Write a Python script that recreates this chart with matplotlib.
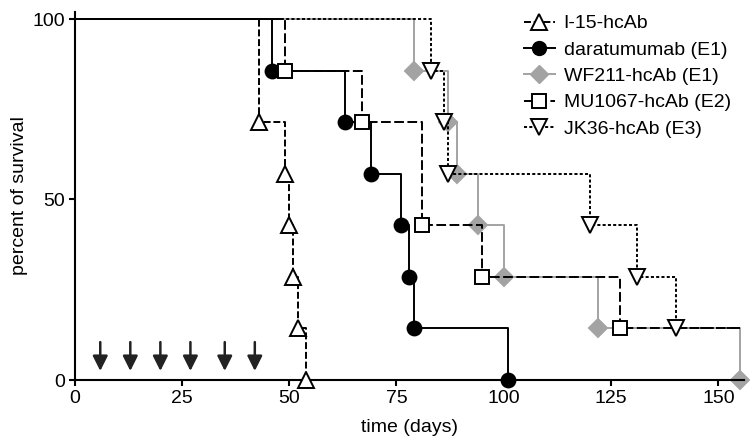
import matplotlib
matplotlib.use("Agg")
import matplotlib.pyplot as plt
from matplotlib.lines import Line2D

plt.rcParams['font.family'] = ['Liberation Sans', 'DejaVu Sans']
plt.rcParams['lines.scale_dashes'] = False

# Kaplan-Meier data (days, percent survival after each event)
i15_days = [43, 49, 50, 51, 52, 54]
i15_surv = [71.4, 57.1, 42.9, 28.6, 14.3, 0]
dara_days = [46, 63, 69, 76, 78, 79, 101]
dara_surv = [85.7, 71.4, 57.1, 42.9, 28.6, 14.3, 0]
wf_days = [79, 87, 89, 94, 100, 122, 155]
wf_surv = [85.7, 71.4, 57.1, 42.9, 28.6, 14.3, 0]
mu_days = [49, 67, 81, 95, 127]
mu_surv = [85.7, 71.4, 42.9, 28.6, 14.3]
mu_end = 155
jk_days = [83, 86, 87, 120, 131, 140]
jk_surv = [85.7, 71.4, 57.1, 42.9, 28.6, 14.3]
jk_end = 155
arrow_days = [6, 13, 20, 27, 35, 42]

labels = ['I-15-hcAb', 'daratumumab (E1)', 'WF211-hcAb (E1)',
          'MU1067-hcAb (E2)', 'JK36-hcAb (E3)']

fig = plt.figure(figsize=(7.5, 4.48), dpi=100)
ax = fig.add_axes([74.5/750, 1-380/448, (156*4.293)/750, 102*3.61/448])

gray = '#a3a3a3'
lw = 1.4
fs = 14

def km(ax, days, surv, end=None, color='k', dashes=None, marker='o',
       mfc='k', mec='k', ms=10, z=2):
    xs = [0] + list(days)
    ys = [100] + list(surv)
    if end is not None:
        xs.append(end)
        ys.append(ys[-1])
    ln, = ax.step(xs, ys, where='post', color=color, lw=lw, zorder=z,
                  clip_on=False)
    if dashes is not None:
        ln.set_dashes(dashes)
    ax.plot(days, surv, linestyle='none', marker=marker, ms=ms, mfc=mfc,
            mec=mec, mew=1.4, zorder=z+0.5, clip_on=False)

km(ax, wf_days, wf_surv, color=gray, marker='D', mfc=gray, mec=gray, ms=9, z=2)
km(ax, dara_days, dara_surv, color='k', marker='o', mfc='k', mec='k', ms=10, z=3)
km(ax, i15_days, i15_surv, color='k', dashes=(5, 2), marker='^', mfc='white', ms=11, z=4)
km(ax, mu_days, mu_surv, end=mu_end, color='k', dashes=(7, 2.5), marker='s', mfc='white', ms=10, z=4)
km(ax, jk_days, jk_surv, end=jk_end, color='k', dashes=(2.2, 1.6), marker='v', mfc='white', ms=11, z=5)

for d in arrow_days:
    ax.annotate('', xy=(d, 2.5), xytext=(d, 10.5),
                arrowprops=dict(arrowstyle='-|>,head_width=0.45,head_length=0.9',
                                color='#222222', lw=1.8, shrinkA=0, shrinkB=0))

ax.set_xlim(0, 156)
ax.set_ylim(0, 102)
ax.set_xticks([0, 25, 50, 75, 100, 125, 150])
ax.set_yticks([0, 50, 100])
for s in ['top', 'right']:
    ax.spines[s].set_visible(False)
for s in ['left', 'bottom']:
    ax.spines[s].set_linewidth(1.5)
ax.tick_params(direction='out', length=4, width=1.5, labelsize=fs, pad=3)
ax.set_xlabel('time (days)', fontsize=fs, labelpad=9)
ax.set_ylabel('percent of survival', fontsize=fs, labelpad=3)

handles = [
    Line2D([], [], color='k', dashes=(5, 2), lw=lw, marker='^', mfc='white', mec='k', ms=11, mew=1.4),
    Line2D([], [], color='k', lw=lw, marker='o', mfc='k', mec='k', ms=10),
    Line2D([], [], color=gray, lw=lw, marker='D', mfc=gray, mec=gray, ms=9),
    Line2D([], [], color='k', dashes=(7, 2.5), lw=lw, marker='s', mfc='white', mec='k', ms=10, mew=1.4),
    Line2D([], [], color='k', dashes=(2.2, 1.6), lw=lw, marker='v', mfc='white', mec='k', ms=11, mew=1.4),
]
fig.legend(handles, labels, loc='upper left', bbox_to_anchor=(514/750, 1-5/448),
           frameon=False, fontsize=fs, handlelength=1.6, handletextpad=0.45,
           labelspacing=0.45, borderpad=0, numpoints=1)

fig.savefig('out.png', dpi=100)
